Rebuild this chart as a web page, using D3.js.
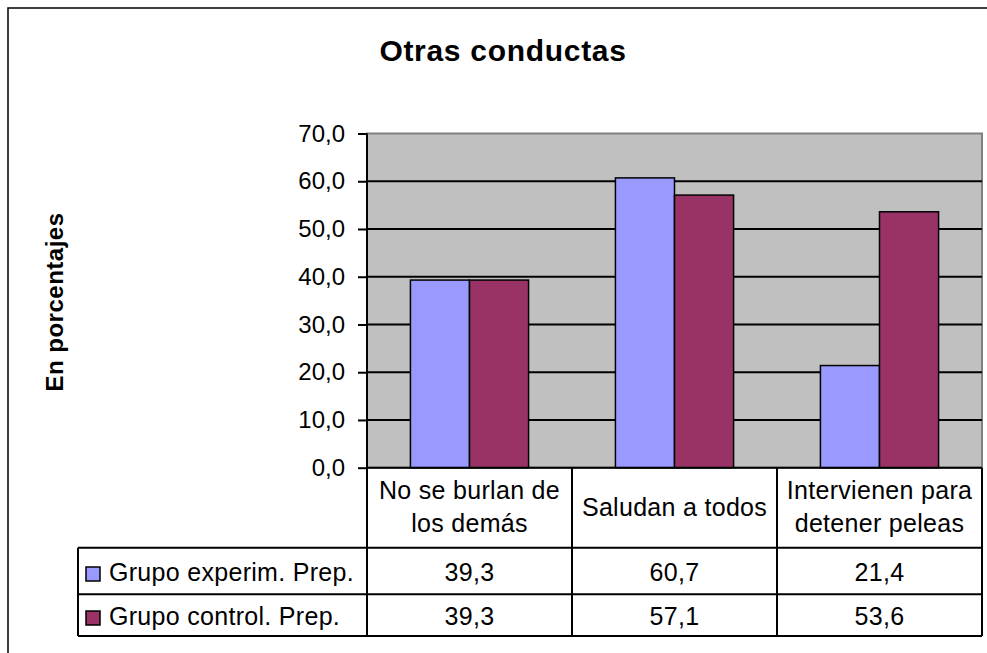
<!DOCTYPE html>
<html>
<head>
<meta charset="utf-8">
<script src="https://cdn.jsdelivr.net/npm/d3@7"></script>
<style>
  body { margin: 0; background: #fff; }
  svg { display: block; font-family: Arial, "Liberation Sans", sans-serif; }
</style>
</head>
<body>
<svg width="987" height="653"></svg>
<script>
// data
const categories = [["No se burlan de", "los demás"], ["Saludan a todos"], ["Intervienen para", "detener peleas"]];
const series = ["Grupo experim. Prep.", "Grupo control. Prep."];
const experim = [39.3, 60.7, 21.4];
const control = [39.3, 57.1, 53.6];
const yTicks = [0, 10, 20, 30, 40, 50, 60, 70];
const colors = ["#9999ff", "#993366"];

const svg = d3.select("svg");
const fmt = v => d3.format(".1f")(v).replace(".", ",");

// outer frame
svg.append("rect")
   .attr("x", 8).attr("y", 8)
   .attr("width", 1000).attr("height", 700)
   .attr("fill", "#fff").attr("stroke", "#000").attr("stroke-width", 1.5);

const plot = {left: 367, right: 982, top: 133.5, bottom: 467.7};
const tableLeft = 78;
const rows = [547.7, 594.3, 636];

const x0 = d3.scaleBand()
  .domain(d3.range(categories.length))
  .range([plot.left, plot.right]);

const x1 = d3.scaleBand()
  .domain(d3.range(series.length))
  .range([0, x0.bandwidth()])
  .paddingOuter(0.735);

const y = d3.scaleLinear()
  .domain([0, 70])
  .range([plot.bottom, plot.top]);

// title
svg.append("text")
   .attr("x", 503).attr("y", 61)
   .attr("text-anchor", "middle")
   .style("font-size", "30px").style("font-weight", "bold")
   .style("letter-spacing", "0.7px")
   .text("Otras conductas");

// y label
svg.append("text")
   .attr("transform", "translate(63,302) rotate(-90)")
   .attr("text-anchor", "middle")
   .style("font-size", "24px").style("font-weight", "bold")
   .style("letter-spacing", "0.5px")
   .text("En porcentajes");

// plot area
svg.append("rect")
   .attr("x", plot.left).attr("y", plot.top)
   .attr("width", plot.right - plot.left).attr("height", plot.bottom - plot.top)
   .attr("fill", "#c0c0c0").attr("stroke", "#808080").attr("stroke-width", 2);

// gridlines
svg.append("g")
   .selectAll("line")
   .data(yTicks.filter(t => t > 0 && t < 70))
   .enter().append("line")
   .attr("x1", plot.left).attr("x2", plot.right)
   .attr("y1", d => y(d)).attr("y2", d => y(d))
   .attr("stroke", "#000").attr("stroke-width", 2);

// bars
const groups = svg.append("g")
  .selectAll("g")
  .data(categories.map((c, i) => [experim[i], control[i]]))
  .enter().append("g")
  .attr("transform", (d, i) => "translate(" + x0(i) + ",0)");

groups.selectAll("rect")
  .data(d => d)
  .enter().append("rect")
  .attr("x", (d, j) => x1(j))
  .attr("width", x1.bandwidth())
  .attr("y", d => y(d))
  .attr("height", d => y(0) - y(d))
  .attr("fill", (d, j) => colors[j])
  .attr("stroke", "#000").attr("stroke-width", 1.5);

// y axis
const yAxis = svg.append("g")
  .attr("transform", "translate(" + plot.left + ",0)")
  .call(d3.axisLeft(y).tickValues(yTicks).tickSize(9).tickPadding(13).tickFormat(fmt));
yAxis.select(".domain").remove();
yAxis.selectAll(".tick line").attr("stroke", "#000").attr("stroke-width", 2);
yAxis.selectAll(".tick text")
  .style("font-size", "24px")
  .style("font-family", "Arial, 'Liberation Sans', sans-serif")
  .attr("fill", "#000");

// table lines
const tbl = svg.append("g").attr("stroke", "#000").attr("stroke-width", 2);
tbl.append("line").attr("x1", plot.left).attr("x2", plot.left).attr("y1", plot.top).attr("y2", rows[2]);
tbl.append("line").attr("x1", plot.left).attr("x2", plot.right).attr("y1", plot.bottom).attr("y2", plot.bottom);
x0.domain().forEach(i => {
  const xr = x0(i) + x0.bandwidth();
  tbl.append("line").attr("x1", xr).attr("x2", xr).attr("y1", plot.bottom).attr("y2", rows[2]);
});
rows.forEach(r => {
  tbl.append("line").attr("x1", tableLeft).attr("x2", plot.right).attr("y1", r).attr("y2", r);
});
tbl.append("line").attr("x1", tableLeft).attr("x2", tableLeft).attr("y1", rows[0]).attr("y2", rows[2]);

// category labels
const catLabels = svg.append("g")
  .selectAll("text")
  .data(categories)
  .enter().append("text")
  .attr("text-anchor", "middle")
  .style("font-size", "25px").style("letter-spacing", "0.3px")
  .attr("transform", (d, i) => "translate(" + (x0(i) + x0.bandwidth() / 2) + "," + (d.length === 1 ? 515.7 : 499.3) + ")");
catLabels.selectAll("tspan")
  .data(d => d)
  .enter().append("tspan")
  .attr("x", 0)
  .attr("dy", (d, k) => k === 0 ? 0 : 32.4)
  .text(d => d);

// table rows
[experim, control].forEach((vals, s) => {
  const base = s === 0 ? 581 : 625;
  svg.append("rect")
     .attr("x", 86).attr("y", base - 14)
     .attr("width", 14).attr("height", 14)
     .attr("fill", colors[s]).attr("stroke", "#000").attr("stroke-width", 1.5);
  svg.append("text")
     .attr("x", 109).attr("y", base)
     .style("font-size", "25px").style("letter-spacing", "0.3px")
     .text(series[s]);
  svg.append("g").selectAll("text")
     .data(vals)
     .enter().append("text")
     .attr("x", (d, i) => x0(i) + x0.bandwidth() / 2)
     .attr("y", base)
     .attr("text-anchor", "middle")
     .style("font-size", "25px").style("letter-spacing", "0.3px")
     .text(fmt);
});
</script>
</body>
</html>
